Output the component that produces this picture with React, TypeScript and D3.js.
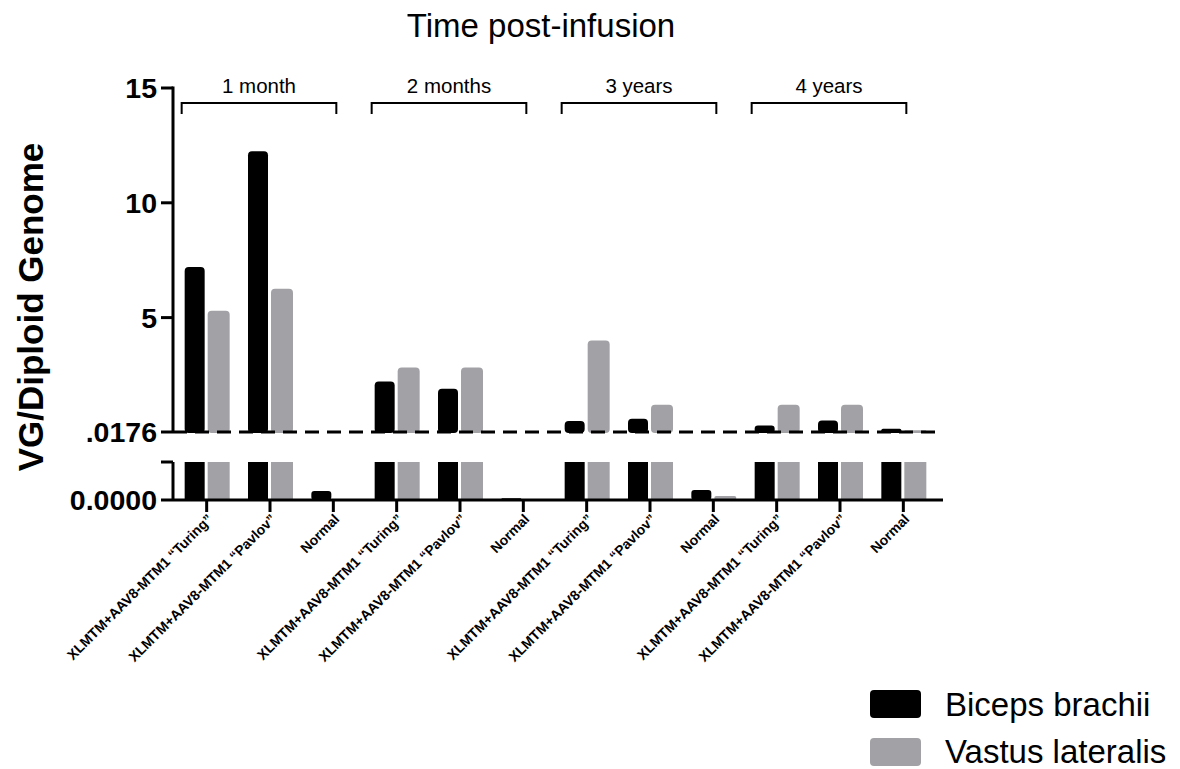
import React from "react";
import * as d3 from "d3";

const categories = [
  "XLMTM+AAV8-MTM1 \u201CTuring\u201D",
  "XLMTM+AAV8-MTM1 \u201CPavlov\u201D",
  "Normal",
  "XLMTM+AAV8-MTM1 \u201CTuring\u201D",
  "XLMTM+AAV8-MTM1 \u201CPavlov\u201D",
  "Normal",
  "XLMTM+AAV8-MTM1 \u201CTuring\u201D",
  "XLMTM+AAV8-MTM1 \u201CPavlov\u201D",
  "Normal",
  "XLMTM+AAV8-MTM1 \u201CTuring\u201D",
  "XLMTM+AAV8-MTM1 \u201CPavlov\u201D",
  "Normal",
];
const groups = ["1 month", "2 months", "3 years", "4 years"];
const biceps = [7.2, 12.25, 0.0042, 2.22, 1.9, 0.0008, 0.5, 0.6, 0.0046, 0.3, 0.52, 0.16];
const vastus = [5.3, 6.26, 0.0005, 2.83, 2.83, 0.0004, 4.0, 1.2, 0.0018, 1.2, 1.2, 0.09];
const upperTicks = [15, 10, 5];
const breakValue = 0.0176;
const seriesNames = ["Biceps brachii", "Vastus lateralis"];
const seriesColors = ["#000000", "#a2a2a6"];

export default function App() {
  const W = 1180, H = 769;
  const x = d3.scaleBand<number>().domain(d3.range(categories.length)).range([175, 935]);
  const yU = d3.scaleLinear().domain([breakValue, 15]).range([432, 88]);
  const yL = d3.scaleLinear().domain([0, breakValue]).range([500, 462]);
  const axisX = 173;
  const xEnd = 943;
  const font = "Arial, 'Liberation Sans', Helvetica, sans-serif";

  const bars: JSX.Element[] = [];
  categories.forEach((_, i) => {
    const c = x(i)! + x.bandwidth() / 2;
    [biceps[i], vastus[i]].forEach((v, s) => {
      const x0 = s === 0 ? c - 22 : c + 1;
      const w = s === 0 ? 20 : 22;
      const col = seriesColors[s];
      const lTop = yL(Math.min(v, breakValue));
      const lh = 500 - lTop;
      if (v >= breakValue) {
        bars.push(<rect key={`l${i}${s}`} x={x0} y={lTop} width={w} height={lh} fill={col} />);
        const uTop = yU(v);
        const uh = 432 - uTop;
        const r = Math.min(4, uh / 2);
        bars.push(<rect key={`u${i}${s}`} x={x0} y={uTop} width={w} height={uh + 1} rx={r} ry={r} fill={col} />);
      } else {
        const r = Math.min(3, lh / 2);
        bars.push(<rect key={`l${i}${s}`} x={x0} y={lTop} width={w} height={lh} rx={r} ry={r} fill={col} />);
      }
    });
  });

  return (
    <svg width={W} height={H} style={{ position: "absolute", left: 0, top: 0, background: "#fff" }} fontFamily={font}>
      <text x={541} y={37} textAnchor="middle" fontSize={33}>Time post-infusion</text>
      {groups.map((g, gi) => {
        const first = x(gi * 3)! + x.bandwidth() / 2;
        const last = x(gi * 3 + 2)! + x.bandwidth() / 2;
        const l = first - 25, r = last + 3;
        return (
          <g key={g}>
            <path d={`M${l},114 V103 H${r} V114`} fill="none" stroke="#000" strokeWidth={2} />
            <text x={(l + r) / 2} y={93} textAnchor="middle" fontSize={20.5}>{g}</text>
          </g>
        );
      })}
      {bars}
      <line x1={axisX} x2={xEnd} y1={432} y2={432} stroke="#000" strokeWidth={3} strokeDasharray="14 8" />
      <line x1={axisX} x2={axisX} y1={yU(15) - 1.5} y2={432} stroke="#000" strokeWidth={3} />
      {upperTicks.map(t => (
        <g key={t}>
          <line x1={axisX - 12} x2={axisX} y1={yU(t)} y2={yU(t)} stroke="#000" strokeWidth={3} />
          <text x={axisX - 16} y={yU(t) + 10} textAnchor="end" fontSize={28.5} fontWeight="bold">{t}</text>
        </g>
      ))}
      <line x1={axisX - 12} x2={axisX} y1={432} y2={432} stroke="#000" strokeWidth={3} />
      <text x={axisX - 16} y={442} textAnchor="end" fontSize={28.5} fontWeight="bold">.0176</text>
      <line x1={axisX} x2={axisX} y1={yL(breakValue)} y2={500} stroke="#000" strokeWidth={3} />
      <line x1={axisX - 12} x2={axisX} y1={yL(breakValue)} y2={yL(breakValue)} stroke="#000" strokeWidth={3} />
      <line x1={axisX - 12} x2={xEnd} y1={500} y2={500} stroke="#000" strokeWidth={3} />
      <text x={axisX - 16} y={510} textAnchor="end" fontSize={28.5} fontWeight="bold">0.0000</text>
      {categories.map((c, i) => {
        const cx = x(i)! + x.bandwidth() / 2;
        return (
          <g key={i}>
            <line x1={cx} x2={cx} y1={500} y2={512} stroke="#000" strokeWidth={3} />
            <text transform={`translate(${cx + 7},${520}) rotate(-45)`} textAnchor="end" fontSize={14} fontWeight="bold">{c}</text>
          </g>
        );
      })}
      <text transform="translate(43,307) rotate(-90)" textAnchor="middle" fontSize={35} fontWeight="bold">VG/Diploid Genome</text>
      {seriesNames.map((n, s) => (
        <g key={n}>
          <rect x={870} y={690 + s * 48} width={51} height={28} rx={4} fill={seriesColors[s]} />
          <text x={945} y={716 + s * 47} fontSize={33}>{n}</text>
        </g>
      ))}
    </svg>
  );
}
